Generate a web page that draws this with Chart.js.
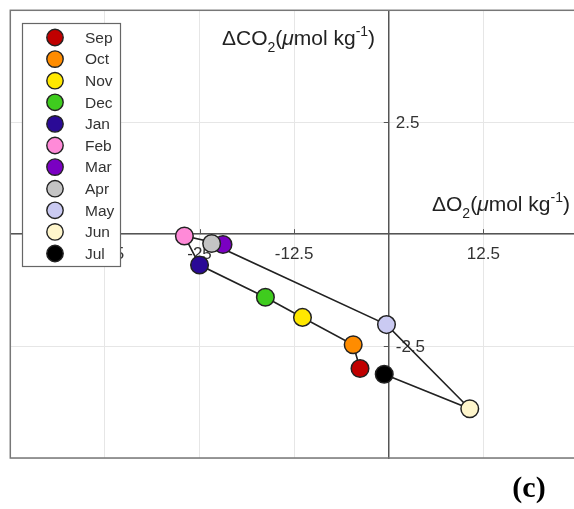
<!DOCTYPE html>
<html>
<head>
<meta charset="utf-8">
<script src="https://cdn.jsdelivr.net/npm/chart.js@4.4.1/dist/chart.umd.min.js"></script>
<style>
html,body{margin:0;padding:0;background:#fff;overflow:hidden;}
#wrap{width:590px;height:509px;}
</style>
</head>
<body>
<div id="wrap"><canvas id="c" width="590" height="509"></canvas></div>
<script>
const months = ['Sep','Oct','Nov','Dec','Jan','Feb','Mar','Apr','May','Jun','Jul'];
const dO2  = [-3.8, -4.7, -11.4, -16.3, -25.0, -27.0, -21.9, -23.4, -0.3, 10.7, -0.6];
const dCO2 = [-3.0, -2.47, -1.86, -1.41, -0.69, -0.04, -0.23, -0.21, -2.02, -3.9, -3.13];
const colors = ['#c00000','#ff8c00','#ffe800','#3fcc1e','#2a0a96','#ff8ad8','#7a00c2','#c4c4c4','#cacaf2','#fff6cc','#000000'];
const xTicks = [-37.5, -25, -12.5, 12.5];
const yTicks = [2.5, -2.5];
const xTickLabels = ['-37.5','-25','-12.5','12.5'];
const yTickLabels = ['2.5','-2.5'];

const datasets = [{
  label: '_path',
  data: months.map((m,i)=>({x:dO2[i], y:dCO2[i]})),
  showLine: true,
  borderColor: '#222',
  borderWidth: 1.6,
  pointRadius: 0,
  pointHoverRadius: 0,
  order: 20
}];
months.forEach((m,i)=>{
  datasets.push({
    label: m,
    data: [{x:dO2[i], y:dCO2[i]}],
    backgroundColor: colors[i],
    borderColor: '#222',
    borderWidth: 1.5,
    pointRadius: 8.8,
    pointHoverRadius: 8.8,
    order: 11 - i
  });
});

function drawRich(ctx, parts, x, y){
  let cx = x;
  parts.forEach(p=>{
    ctx.font = (p.italic?'italic ':'') + p.size + 'px "Liberation Sans", Arial, sans-serif';
    ctx.textAlign = 'left';
    ctx.textBaseline = 'alphabetic';
    ctx.fillText(p.t, cx, y + (p.dy||0));
    cx += ctx.measureText(p.t).width + (p.gap||0);
  });
}

function titleParts(main){
  return [
    {t:'\u0394' + main, size:21},
    {t:'2', size:14, dy:7},
    {t:'(', size:21},
    {t:'\u03bc', size:21, italic:true},
    {t:'mol kg', size:21},
    {t:'-1', size:14, dy:-9},
    {t:')', size:21}
  ];
}

const deco = {
  id: 'deco',
  beforeDatasetsDraw(chart){
    const ctx = chart.ctx, a = chart.chartArea;
    const xs = chart.scales.x, ys = chart.scales.y;
    const x0 = xs.getPixelForValue(0), y0 = ys.getPixelForValue(0);
    ctx.save();
    // frame
    ctx.strokeStyle = '#777';
    ctx.lineWidth = 1.5;
    ctx.strokeRect(a.left, a.top, a.right - a.left, a.bottom - a.top);
    // tick marks
    ctx.strokeStyle = '#555';
    ctx.lineWidth = 1;
    xTicks.forEach(v=>{
      const px = Math.round(xs.getPixelForValue(v)) + 0.5;
      ctx.beginPath(); ctx.moveTo(px, y0); ctx.lineTo(px, y0 - 5); ctx.stroke();
    });
    yTicks.forEach(v=>{
      const py = Math.round(ys.getPixelForValue(v)) + 0.5;
      ctx.beginPath(); ctx.moveTo(x0, py); ctx.lineTo(x0 - 5, py); ctx.stroke();
    });
    // tick labels
    ctx.fillStyle = '#333';
    ctx.font = '17px "Liberation Sans", Arial, sans-serif';
    ctx.textAlign = 'center';
    ctx.textBaseline = 'middle';
    xTicks.forEach((v,i)=>{
      ctx.fillText(xTickLabels[i], xs.getPixelForValue(v), y0 + 20);
    });
    ctx.textAlign = 'left';
    yTicks.forEach((v,i)=>{
      ctx.fillText(yTickLabels[i], x0 + 7, ys.getPixelForValue(v) + 1);
    });
    // axis titles
    ctx.fillStyle = '#222';
    drawRich(ctx, titleParts('CO'), 222, 45);
    drawRich(ctx, titleParts('O'), 432, 211);
    ctx.restore();
  },
  afterDatasetsDraw(chart){
    const ctx = chart.ctx;
    ctx.save();
    // legend
    ctx.fillStyle = '#fff';
    ctx.fillRect(22, 23, 98, 243);
    ctx.strokeStyle = '#666';
    ctx.lineWidth = 1.2;
    ctx.strokeRect(22.5, 23.5, 98, 243);
    months.forEach((m,i)=>{
      const y = 37.5 + i * 21.6;
      ctx.beginPath();
      ctx.arc(55, y, 8.2, 0, Math.PI*2);
      ctx.fillStyle = colors[i];
      ctx.fill();
      ctx.strokeStyle = '#222';
      ctx.lineWidth = 1.4;
      ctx.stroke();
      ctx.fillStyle = '#333';
      ctx.font = '15.5px "Liberation Sans", Arial, sans-serif';
      ctx.textAlign = 'left';
      ctx.textBaseline = 'middle';
      ctx.fillText(m, 85, y + 1);
    });
    // panel label
    ctx.fillStyle = '#000';
    ctx.font = 'bold 30px "Liberation Serif", "Times New Roman", serif';
    ctx.textAlign = 'center';
    ctx.textBaseline = 'middle';
    ctx.fillText('(c)', 529, 489);
    ctx.restore();
  }
};

new Chart(document.getElementById('c'), {
  type: 'scatter',
  data: { datasets },
  options: {
    responsive: false,
    animation: false,
    devicePixelRatio: 1,
    layout: { padding: { left: 9, top: 10, right: 12, bottom: 51 } },
    plugins: { legend: { display: false }, tooltip: { enabled: false }, title: { display: false } },
    scales: {
      x: {
        type: 'linear',
        position: { y: 0 },
        min: -50, max: 25,
        ticks: { display: false, stepSize: 12.5 },
        grid: { color: '#e6e6e6', lineWidth: 1, drawTicks: false },
        border: { color: '#555', width: 1.5 }
      },
      y: {
        type: 'linear',
        position: { x: 0 },
        min: -5, max: 5,
        ticks: { display: false, stepSize: 2.5 },
        grid: { color: '#e6e6e6', lineWidth: 1, drawTicks: false },
        border: { color: '#555', width: 1.5 }
      }
    }
  },
  plugins: [deco]
});
</script>
</body>
</html>
